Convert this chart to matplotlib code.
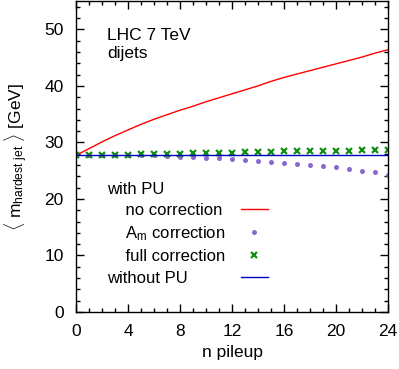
import matplotlib
matplotlib.use("Agg")
import matplotlib.pyplot as plt
import numpy as np
from matplotlib.lines import Line2D

plt.rcParams['font.family'] = ['Liberation Sans', 'DejaVu Sans']
plt.rcParams['mathtext.fontset'] = 'custom'
plt.rcParams['mathtext.rm'] = 'Liberation Sans'
plt.rcParams['mathtext.it'] = 'Liberation Sans:italic'
FS = 12.5

# n pileup
npu = np.arange(0, 25)
# no correction (red line)
no_corr = [27.7, 28.9, 30.1, 31.2, 32.2, 33.2, 34.1, 34.9, 35.7, 36.4,
           37.2, 37.9, 38.6, 39.3, 40.0, 40.8, 41.5, 42.1, 42.7, 43.3,
           43.9, 44.5, 45.1, 45.8, 46.4]
# A_m correction (purple dots)
am_corr = [27.7, 27.7, 27.7, 27.7, 27.7, 27.7, 27.7, 27.6, 27.5, 27.4,
           27.3, 27.2, 27.0, 26.9, 26.7, 26.6, 26.4, 26.2, 26.0, 25.8,
           25.6, 25.3, 25.0, 24.7, 24.2]
# full correction (green crosses)
full_corr = [27.7, 27.7, 27.8, 27.8, 27.8, 27.9, 27.9, 28.0, 28.0, 28.1,
             28.1, 28.2, 28.2, 28.3, 28.3, 28.3, 28.4, 28.4, 28.5, 28.5,
             28.5, 28.5, 28.6, 28.6, 28.6]
# without PU reference
no_pu = 27.7

fig = plt.figure(figsize=(3.99, 3.69), dpi=100)
ax = fig.add_axes([0.1905, 0.1545, 0.782, 0.8425])

ax.plot(npu, no_corr, color='#ff0000', lw=1.0)
ax.plot(npu, am_corr, 'o', color='#8968cd', ms=3.6, mew=0)
ax.plot(npu, full_corr, 'x', color='#109010', ms=4.2, mew=1.6)
ax.axhline(no_pu, color='#0000c8', lw=1.0)

ax.set_xlim(0, 24)
ax.set_ylim(0, 55)
ax.set_xticks(np.arange(0, 25, 4))
ax.set_xticks(np.arange(0, 25, 1), minor=True)
ax.set_yticks(np.arange(0, 51, 10))
ax.set_yticks(np.arange(0, 55, 2), minor=True)
ax.tick_params(which='both', direction='in', top=True, right=True, labelsize=FS, pad=9)
ax.tick_params(which='major', length=6, width=1)
ax.tick_params(which='minor', length=3, width=1)
for s in ax.spines.values():
    s.set_linewidth(1.0)

ax.set_xlabel('n pileup', fontsize=FS, labelpad=4)
ax.set_ylabel(r'$\langle\ \mathrm{m}_{\mathrm{hardest\ jet}}\ \rangle$ [GeV]', fontsize=FS, labelpad=10)

ax.text(0.10, 0.915, 'LHC 7 TeV\ndijets', transform=ax.transAxes, va='top', ha='left',
        fontsize=FS, linespacing=1.3)

LFS = 12
blank = Line2D([], [], linestyle='none')
handles = [blank,
           Line2D([], [], color='#ff0000', lw=1.0),
           Line2D([], [], marker='o', linestyle='none', color='#8968cd', ms=3.6, mew=0),
           Line2D([], [], marker='x', linestyle='none', color='#109010', ms=4.2, mew=1.6),
           Line2D([], [], color='#0000c8', lw=1.0)]
labels = ['with PU', '    no correction', r'    A$_\mathrm{m}$ correction',
          '    full correction', 'without PU']
leg = ax.legend(handles, labels, loc='lower left', bbox_to_anchor=(0.099, 0.085),
                frameon=False, markerfirst=False, fontsize=LFS, handlelength=1.6,
                handletextpad=0.95, labelspacing=0.38, borderpad=0, borderaxespad=0)

# make label text left-aligned while keeping handles in one column on the right
fig.canvas.draw()
r = fig.canvas.get_renderer()
dpicor = r.points_to_pixels(1.0)
rows = leg._legend_handle_box.get_children()[0].get_children()
widths = [row.get_children()[0].get_bbox(r).width for row in rows]
wmax = max(widths)
for row, w in zip(rows, widths):
    row.sep += (wmax - w) / dpicor

fig.savefig('out.png', dpi=100)
